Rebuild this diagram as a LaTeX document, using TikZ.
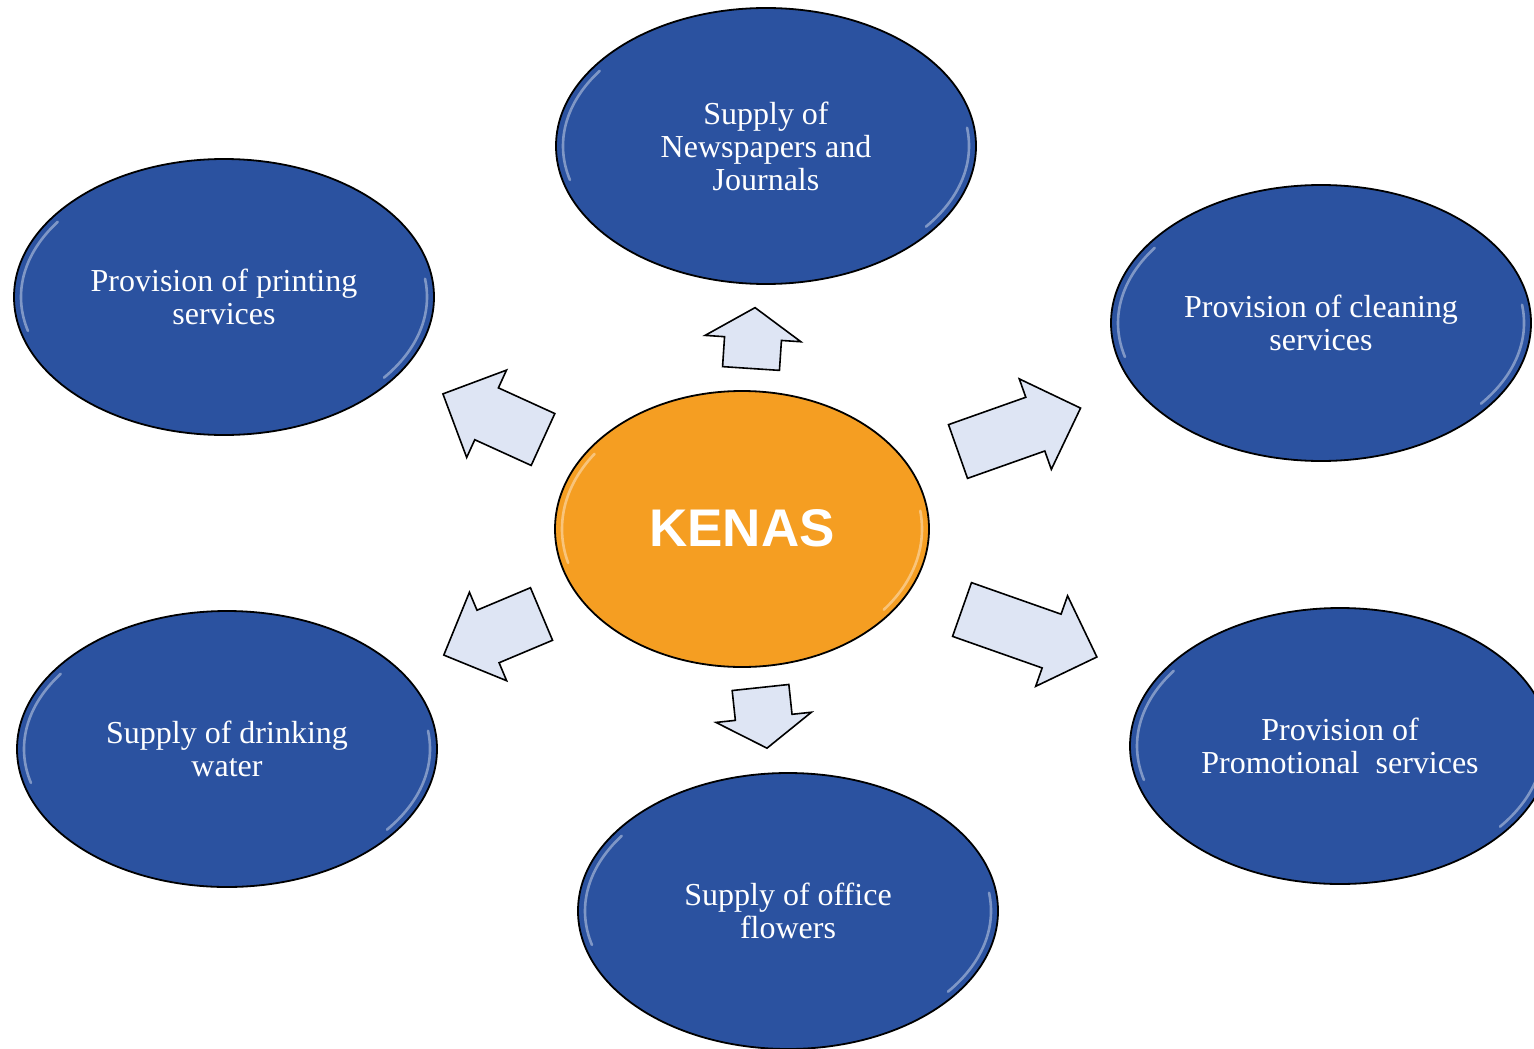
\documentclass[tikz,border=0pt]{standalone}
\usepackage{fontspec}
\setmainfont{Liberation Serif}
\newfontfamily\kenasfont{Liberation Sans}
\usetikzlibrary{shapes.geometric}
\definecolor{bubbleblue}{HTML}{2B52A0}
\definecolor{kenasorange}{HTML}{F59E22}
\definecolor{arrowfill}{HTML}{DEE5F4}
\tikzset{
  shine/.style 2 args={path picture={
    \draw[white,opacity=.4,line width=1.3pt,line cap=round]
      ([shift={(145:#1 and #2)}]path picture bounding box.center)
      arc[start angle=145,end angle=195,x radius=#1,y radius=#2];
    \draw[white,opacity=.4,line width=1.3pt,line cap=round]
      ([shift={(-38:#1 and #2)}]path picture bounding box.center)
      arc[start angle=-38,end angle=8,x radius=#1,y radius=#2];}},
  bubble/.style={ellipse,draw=black,line width=.9pt,fill=bubbleblue,
    minimum width=210pt,minimum height=138pt,inner sep=0pt,
    text=white,align=center,font=\fontsize{16}{16.5}\selectfont,
    shine={101.5pt}{65.5pt}},
  blockarrow/.style={draw=black,line width=.8pt,fill=arrowfill,line join=miter}
}
\begin{document}
\begin{tikzpicture}[x=.5pt,y=-.5pt]
\useasboundingbox (0,0) rectangle (1534,1048);
\clip (0,0) rectangle (1534,1048);
% centre
\node[bubble,fill=kenasorange,minimum width=187pt,shine={90pt}{65.5pt},
  font=\kenasfont\bfseries\fontsize{26.5}{28}\selectfont] (kenas) at (742,529) {\raisebox{1.5pt}{KENAS}};
% services round it
\node[bubble] (newspapers) at (766,146) {Supply of\\Newspapers and\\Journals};
\node[bubble] (printing) at (224,297) {Provision of printing\\services};
\node[bubble] (cleaning) at (1321,323) {Provision of cleaning\\services};
\node[bubble] (water) at (227,749) {Supply of drinking\\water};
\node[bubble] (flowers) at (788,911) {Supply of office\\flowers};
\node[bubble] (promo) at (1340,746) {Provision of\\Promotional\ \ services};
% block arrows: tail x/tail y/angle/length/head length
\foreach \x/\y/\a/\l/\h in {751/368.5/86.2/61/31, 543/439.5/155.5/110/48,
  958/451.5/19.5/130/48, 962/609.5/-19.4/143/48,
  541.5/614/202.8/106/48, 760.5/687.5/-83.9/61/31}
  \draw[blockarrow,shift={(\x,\y)},rotate=\a]
    (0,-28.5) -- (\l-\h,-28.5) -- (\l-\h,-48) -- (\l,0)
    -- (\l-\h,48) -- (\l-\h,28.5) -- (0,28.5) -- cycle;
\end{tikzpicture}
\end{document}
